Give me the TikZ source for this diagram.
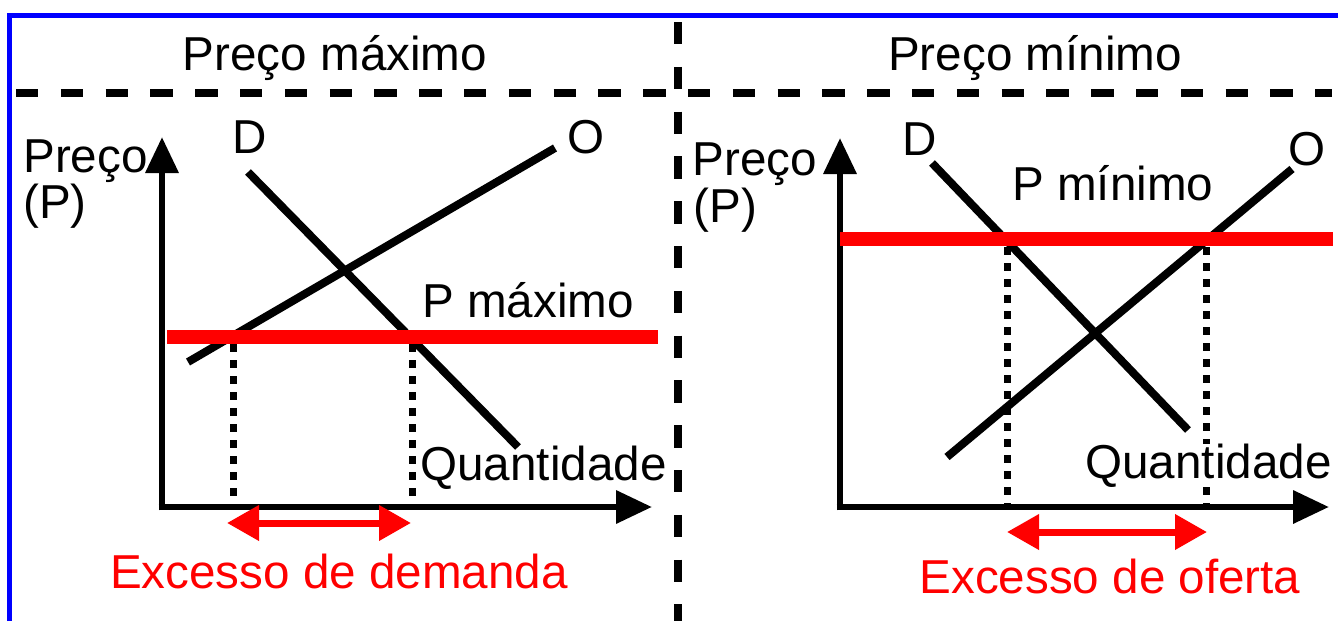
\documentclass[tikz,border=0pt]{standalone}
\usepackage{fontspec}
\setmainfont{Liberation Sans}
\usetikzlibrary{positioning, arrows.meta}

\begin{document}
\begin{tikzpicture}[
    x=0.5pt, y=-0.5pt,      % 1 単位 = 画像の 1 ピクセル
    font=\fontsize{23.8}{28}\selectfont,
    % 軸（黒の三角矢じり）
    axis/.style={line width=3.3pt, -{Triangle[length=18pt, width=16pt]}},
    % 需要・供給曲線
    curve/.style={line width=4pt},
    % 価格規制の赤い線
    limit/.style={red, line width=7pt},
    % 点線の補助線
    guide/.style={line width=3.5pt, dash pattern=on 4pt off 4pt},
    % 超過分の赤い両矢印
    excess/.style={red, line width=3.5pt,
        {Triangle[length=16pt, width=17pt]}-{Triangle[length=16pt, width=17pt]}},
    % パネルの区切り線
    divider/.style={line width=4.3pt, dash pattern=on 11.2pt off 11.2pt},
    label/.style={inner sep=0pt, anchor=base west}
]

    \useasboundingbox (0,0) rectangle (1338,621);

    % --- 1. 外枠と区切り線 ---
    \draw [blue, line width=2.7pt] (9.5,621) -- (9.5,15.5) -- (1338,15.5);
    \draw [divider] (16,93) -- (1332,93);
    \draw [divider] (678,22) -- (678,621);

    % 【タイトル】
    \node [anchor=base, inner sep=0pt] (title_max) at (335,70) {Preço máximo};
    \node [anchor=base, inner sep=0pt] (title_min) at (1035,70) {Preço mínimo};

    % --- 2. 左：価格上限 ---
    \coordinate (L_o) at (162,507);
    \coordinate (L_ytip) at (162,137);
    \coordinate (L_xtip) at (652,507);
    \draw [axis] ([yshift=-1.65pt]L_o) -- (L_ytip);
    \draw [axis] ([xshift=-1.65pt]L_o) -- (L_xtip);

    \node [label] (L_preco) at (23,172) {Preço};
    \node [label] (L_p) at (23,218) {(P)};
    \node [label] (L_qty) at (420,480) {Quantidade};

    % 需要 D と供給 O
    \coordinate (L_d1) at (248,172);
    \coordinate (L_d2) at (518,447);
    \coordinate (L_o1) at (188,362);
    \coordinate (L_o2) at (555,148);
    \draw [curve] (L_d1) -- (L_d2);
    \draw [curve] (L_o1) -- (L_o2);
    \node [anchor=base, inner sep=0pt] (L_dlbl) at (250,153) {D};
    \node [anchor=base, inner sep=0pt] (L_olbl) at (586,153) {O};

    % 上限価格の線
    \coordinate (L_lim1) at (167,337);
    \coordinate (L_lim2) at (658,337);
    \draw [limit] (L_lim1) -- (L_lim2);
    \node [label] (L_plbl) at (422,317) {P máximo};

    % 点線と超過需要
    \coordinate (L_g1) at (233,344);
    \coordinate (L_g2) at (412,344);
    \draw [guide] (L_g1) -- (L_g1 |- L_o);
    \draw [guide] (L_g2) -- (L_g2 |- L_o);
    \coordinate (L_e1) at (227,523);
    \coordinate (L_e2) at (411,523);
    \draw [excess] (L_e1) -- (L_e2);
    \node [anchor=base, inner sep=0pt, red] (L_exc) at (339,588) {Excesso de demanda};

    % --- 3. 右：価格下限 ---
    \coordinate (R_o) at (840,507);
    \coordinate (R_ytip) at (840,138);
    \coordinate (R_xtip) at (1329,507);
    \draw [axis] ([yshift=-1.65pt]R_o) -- (R_ytip);
    \draw [axis] ([xshift=-1.65pt]R_o) -- (R_xtip);

    \node [label] (R_preco) at (692,175) {Preço};
    \node [label] (R_p) at (693,222) {(P)};

    % 需要 D と供給 O
    \coordinate (R_d1) at (932,163);
    \coordinate (R_d2) at (1188,430);
    \coordinate (R_o1) at (947,457);
    \coordinate (R_o2) at (1292,169);
    \draw [curve] (R_d1) -- (R_d2);
    \draw [curve] (R_o1) -- (R_o2);
    \node [anchor=base, inner sep=0pt] (R_dlbl) at (920,155) {D};
    \node [anchor=base, inner sep=0pt] (R_olbl) at (1307,165) {O};

    % 下限価格の線
    \coordinate (R_lim1) at (840,239);
    \coordinate (R_lim2) at (1333,239);
    \draw [limit] (R_lim1) -- (R_lim2);
    \node [label] (R_plbl) at (1012,200) {P mínimo};

    % 点線と超過供給
    \coordinate (R_g1) at (1007,247);
    \coordinate (R_g2) at (1206,247);
    \draw [guide] (R_g1) -- (R_g1 |- R_o);
    \draw [guide] (R_g2) -- (R_g2 |- R_o);
    \coordinate (R_e1) at (1007,532);
    \coordinate (R_e2) at (1207,532);
    \draw [excess] (R_e1) -- (R_e2);
    \node [anchor=base, inner sep=0pt, red] (R_exc) at (1110,593) {Excesso de oferta};

    % 文字の下地を白で抜く（点線を隠す）
    \node [label, fill=white] (R_qty) at (1085,478) {Quantidade};

\end{tikzpicture}
\end{document}
